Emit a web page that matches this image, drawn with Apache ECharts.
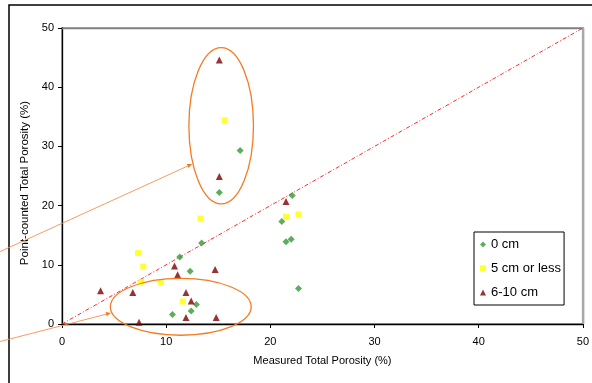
<!DOCTYPE html>
<html>
<head>
<meta charset="utf-8">
<script src="https://cdn.jsdelivr.net/npm/echarts@6/dist/echarts.min.js"></script>
<style>html,body{margin:0;padding:0;background:#fff;}#c{width:592px;height:383px;}</style>
</head>
<body>
<div id="c"></div>
<script>
// ---- data ----
const seriesNames = ['0 cm', '5 cm or less', '6-10 cm'];
const green0cm = [
  [15.1, 22.2], [17.1, 29.3], [22.1, 21.7], [21.1, 17.3], [21.5, 13.9], [22.0, 14.3],
  [22.7, 6.0], [13.4, 13.7], [11.3, 11.3], [12.3, 8.9], [12.9, 3.3], [12.4, 2.2], [10.6, 1.6]
];
const yellow5cm = [
  [15.6, 34.4], [21.5, 18.1], [22.7, 18.5], [13.3, 17.8], [7.3, 12.0], [7.8, 9.7],
  [7.6, 7.1], [9.5, 7.1], [11.6, 3.8]
];
const red6to10cm = [
  [15.1, 44.6], [15.1, 24.9], [21.5, 20.7], [10.8, 9.8], [11.1, 8.3], [14.7, 9.2],
  [3.7, 5.6], [6.8, 5.3], [11.9, 5.3], [12.4, 3.9], [11.9, 1.1], [14.8, 1.1], [7.4, 0.3]
];
const oneToOne = [[0, 0], [50, 50]];
const axisTicks = [0, 10, 20, 30, 40, 50];
// annotations in data units: [cx, cy, rx, ry]
const ellipses = [[15.28, 33.5, 3.1, 13.2], [11.4, 2.9, 6.76, 4.8]];
// arrows in data units: [x1, y1, x2, y2]
const arrows = [[-7.8, 10.74, 12.5, 27.03], [-7.8, -3.8, 4.7, 1.86]];

const chart = echarts.init(document.getElementById('c'), null, {renderer: 'canvas'});
const font = 'Liberation Sans, Arial, sans-serif';
const axMin = axisTicks[0], axMax = axisTicks[axisTicks.length - 1], axInt = axisTicks[1] - axisTicks[0];

chart.setOption({
  animation: false,
  backgroundColor: '#fff',
  textStyle: {fontFamily: font},
  grid: {left: 62, right: 6, top: 28, bottom: 59, containLabel: false,
    show: true, borderWidth: 2, borderColor: '#a8a8a8', backgroundColor: 'transparent'},
  legend: {
    data: seriesNames,
    orient: 'vertical',
    left: 474, top: 232,
    padding: [6, 3, 6, 6],
    itemGap: 11,
    itemWidth: 6, itemHeight: 6,
    borderColor: '#000', borderWidth: 1,
    backgroundColor: '#fff',
    textStyle: {fontSize: 13, color: '#000', fontFamily: font, padding: [0, 0, 0, 0]}
  },
  xAxis: [{
    type: 'value', min: axMin, max: axMax, interval: axInt,
    name: 'Measured Total Porosity (%)', nameLocation: 'middle', nameGap: 31,
    nameTextStyle: {fontSize: 11, color: '#000', fontFamily: font},
    axisLine: {show: true, onZero: false, lineStyle: {color: '#000', width: 1.3}},
    axisTick: {show: true, length: 4, lineStyle: {color: '#000'}},
    axisLabel: {fontSize: 11, color: '#000', margin: 12, fontFamily: font},
    splitLine: {show: false}
  }, {
    type: 'value', position: 'top', min: axMin, max: axMax, interval: axInt,
    axisLine: {show: true, onZero: false, lineStyle: {color: '#808080', width: 1.3}},
    axisTick: {show: false}, axisLabel: {show: false}, splitLine: {show: false}
  }],
  yAxis: [{
    type: 'value', min: axMin, max: axMax, interval: axInt,
    name: 'Point-counted Total Porosity (%)', nameLocation: 'middle', nameGap: 29,
    nameTextStyle: {fontSize: 11.5, color: '#000', fontFamily: font, padding: [0, 14, 0, 0]},
    axisLine: {show: true, onZero: false, lineStyle: {color: '#000', width: 1.3}},
    axisTick: {show: true, length: 4, lineStyle: {color: '#000'}},
    axisLabel: {fontSize: 11, color: '#000', margin: 8, fontFamily: font},
    splitLine: {show: false}
  }],
  series: [
    {
      name: '1:1', type: 'line', data: oneToOne, showSymbol: false, silent: true, z: 1,
      lineStyle: {color: '#ff2a2a', width: 1, type: [4, 2, 1, 2]}
    },
    {name: seriesNames[0], type: 'scatter', data: green0cm, symbol: 'diamond', symbolSize: 7,
      itemStyle: {color: '#339933'}, z: 3},
    {name: seriesNames[1], type: 'scatter', data: yellow5cm, symbol: 'rect', symbolSize: 6,
      itemStyle: {color: '#ffff00'}, z: 3},
    {name: seriesNames[2], type: 'scatter', data: red6to10cm, symbol: 'triangle', symbolSize: 7,
      itemStyle: {color: '#800000'}, z: 3}
  ]
});

function px(p) { return chart.convertToPixel({gridIndex: 0}, p); }
const graphics = [];
graphics.push({
  type: 'rect', z: 100, silent: true,
  shape: {x: 9, y: 5, width: 620, height: 420},
  style: {fill: null, stroke: '#000', lineWidth: 1.5}
});
// right border of the plot area
const rTop = px([axMax, axMax]), rBot = px([axMax, axMin]);
graphics.push({
  type: 'rect', z: 50, silent: true,
  shape: {x: rTop[0] - 0.5, y: rTop[1], width: 2, height: rBot[1] - rTop[1]},
  style: {fill: '#a8a8a8', stroke: null}
});
ellipses.forEach(function (e) {
  const c = px([e[0], e[1]]);
  const r = px([e[0] + e[2], e[1] + e[3]]);
  const rx = r[0] - c[0], ry = c[1] - r[1];
  graphics.push({
    type: 'ellipse', z: 100, silent: true,
    shape: {cx: c[0], cy: c[1], rx: rx, ry: ry},
    style: {fill: null, stroke: '#f57a22', lineWidth: 1.3}
  });
});
arrows.forEach(function (a) {
  const p1 = px([a[0], a[1]]), p2 = px([a[2], a[3]]);
  const dx = p2[0] - p1[0], dy = p2[1] - p1[1];
  const L = Math.sqrt(dx * dx + dy * dy), ux = dx / L, uy = dy / L;
  const hl = 5, hw = 2.2;
  const bx = p2[0] - ux * hl, by = p2[1] - uy * hl;
  graphics.push({
    type: 'line', z: 100, silent: true,
    shape: {x1: p1[0], y1: p1[1], x2: bx, y2: by},
    style: {stroke: '#f89050', lineWidth: 0.9}
  });
  graphics.push({
    type: 'polygon', z: 100, silent: true,
    shape: {points: [[p2[0], p2[1]], [bx - uy * hw, by + ux * hw], [bx + uy * hw, by - ux * hw]]},
    style: {fill: '#f57a22', stroke: null}
  });
});
chart.setOption({graphic: graphics});
</script>
</body>
</html>
